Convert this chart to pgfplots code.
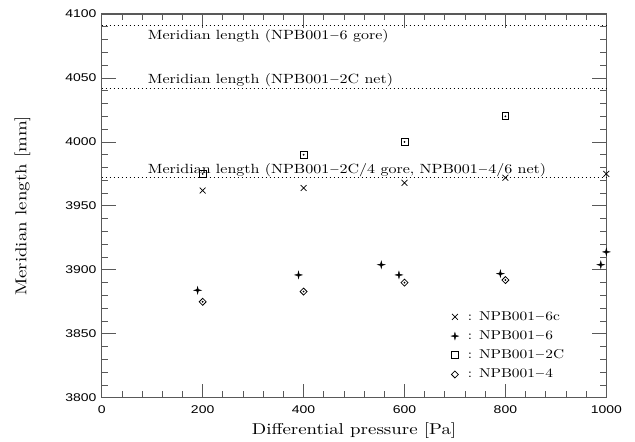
\documentclass[border=0pt]{standalone}
\usepackage{fontspec}
\setmainfont{lmroman10-regular.otf}[FakeStretch=1.2]
\newfontfamily\tickfont{Liberation Sans}[FakeStretch=1.25]
\usepackage{pgfplots}
\pgfplotsset{compat=1.18}
\usetikzlibrary{calc}

% four-pointed star marker
\pgfdeclareplotmark{star4}{%
  \pgfpathmoveto{\pgfqpoint{0pt}{\pgfplotmarksize}}%
  \pgfpathlineto{\pgfqpoint{.2\pgfplotmarksize}{.2\pgfplotmarksize}}%
  \pgfpathlineto{\pgfqpoint{\pgfplotmarksize}{0pt}}%
  \pgfpathlineto{\pgfqpoint{.2\pgfplotmarksize}{-.2\pgfplotmarksize}}%
  \pgfpathlineto{\pgfqpoint{0pt}{-\pgfplotmarksize}}%
  \pgfpathlineto{\pgfqpoint{-.2\pgfplotmarksize}{-.2\pgfplotmarksize}}%
  \pgfpathlineto{\pgfqpoint{-\pgfplotmarksize}{0pt}}%
  \pgfpathlineto{\pgfqpoint{-.2\pgfplotmarksize}{.2\pgfplotmarksize}}%
  \pgfpathclose\pgfusepathqfillstroke}

\newcommand{\lab}{\fontsize{11.8}{14}\selectfont}
\newcommand{\ann}{\fontsize{10}{12}\selectfont}

\begin{document}
\begin{tikzpicture}
\begin{axis}[
  name=ax,
  width=378.45pt, height=287.8pt, scale only axis,
  xmin=0, xmax=1000, ymin=3800, ymax=4100,
  xtick={0,200,...,1000}, ytick={3800,3850,...,4100},
  minor x tick num=4, minor y tick num=4,
  tick align=inside,
  major tick length=10.5pt, minor tick length=4.7pt,
  axis line style={draw=black!65, line width=0.8pt},
  every tick/.style={draw=black!65, line width=0.6pt},
  /pgf/number format/assume math mode=true,
  /pgf/number format/1000 sep={},
  ticklabel style={font=\tickfont\fontsize{8.4}{10}\selectfont},
  xticklabel style={anchor=base, yshift=-11.5pt},
  yticklabel style={anchor=east, inner sep=0pt, xshift=-3.75pt},
  xlabel={Differential pressure [Pa]},
  ylabel={Meridian length [mm]},
  xlabel style={font=\lab, at={(axis description cs:0.5,0)}, anchor=base, yshift=-27.5pt},
  ylabel style={font=\lab, at={(axis description cs:-0.157,0.5)}, anchor=center},
  clip=false,
  legend style={draw=none, fill=none, font=\fontsize{9.6}{11}\selectfont,
    at={(axis description cs:0.692,0.227)}, anchor=north west, inner sep=0pt,
    row sep=5.4pt, cells={anchor=west},
    nodes={inner sep=0pt, text height=7pt, text depth=2pt}},
  legend image code/.code={\draw[#1] plot[only marks] coordinates {(0pt,0pt)};},
]
% reference lengths
\addplot[forget plot, black, line width=0.5pt, dash pattern=on 0.7pt off 2.3pt] coordinates {(0,4091.5) (1000,4091.5)};
\addplot[forget plot, black, line width=0.5pt, dash pattern=on 0.7pt off 2.3pt] coordinates {(0,4041.5) (1000,4041.5)};
\addplot[forget plot, black, line width=0.5pt, dash pattern=on 0.7pt off 2.3pt] coordinates {(0,3972) (1000,3972)};
\node[anchor=base west, font=\ann, inner sep=0pt] at (axis cs:91,4080) {Meridian length (NPB001$-$6 gore)};
\node[anchor=base west, font=\ann, inner sep=0pt] at (axis cs:91,4045.5) {Meridian length (NPB001$-$2C net)};
\node[anchor=base west, font=\ann, inner sep=0pt] at (axis cs:91,3975.4) {Meridian length (NPB001$-$2C/4 gore, NPB001$-$4/6 net)};

% NPB001-6c
\addplot[only marks, mark=x, mark size=3.1pt, mark options={line width=0.55pt, black}] coordinates {
  (200,3962) (400,3964) (600,3968) (800,3972) (1000,3975)
};
% NPB001-6
\addplot[only marks, mark=star4, mark size=2.8pt, mark options={line width=0.3pt, draw=black, fill=black}] coordinates {
  (190,3884) (390,3896) (554,3904) (589,3896) (790,3897) (989,3904) (1000,3914)
};
% NPB001-2C
\addplot[only marks, mark=square, mark size=2.6pt, mark options={line width=0.6pt, black}] coordinates {
  (200,3975) (400,3990) (600,4000) (800,4020)
};
% NPB001-4
\addplot[only marks, mark=square, mark size=1.85pt, mark options={rotate=45, line width=0.6pt, black}] coordinates {
  (200,3875) (400,3883) (600,3890) (800,3892)
};
% centre dots of the open markers
\addplot[forget plot, only marks, mark=*, mark size=0.45pt, black] coordinates {
  (200,3975) (400,3990) (600,4000) (800,4020)
};
\addplot[forget plot, only marks, mark=*, mark size=0.45pt, black] coordinates {
  (200,3875) (400,3883) (600,3890) (800,3892)
};
\legend{{\hspace{7pt}: NPB001$-$6c},{\hspace{7pt}: NPB001$-$6},{\hspace{7pt}: NPB001$-$2C},{\hspace{7pt}: NPB001$-$4}}
\end{axis}
\pgfresetboundingbox
\path ($(ax.south west)+(-76.3pt,-32.5pt)$) rectangle ($(ax.north east)+(21.5pt,10.5pt)$);
\end{tikzpicture}
\end{document}
